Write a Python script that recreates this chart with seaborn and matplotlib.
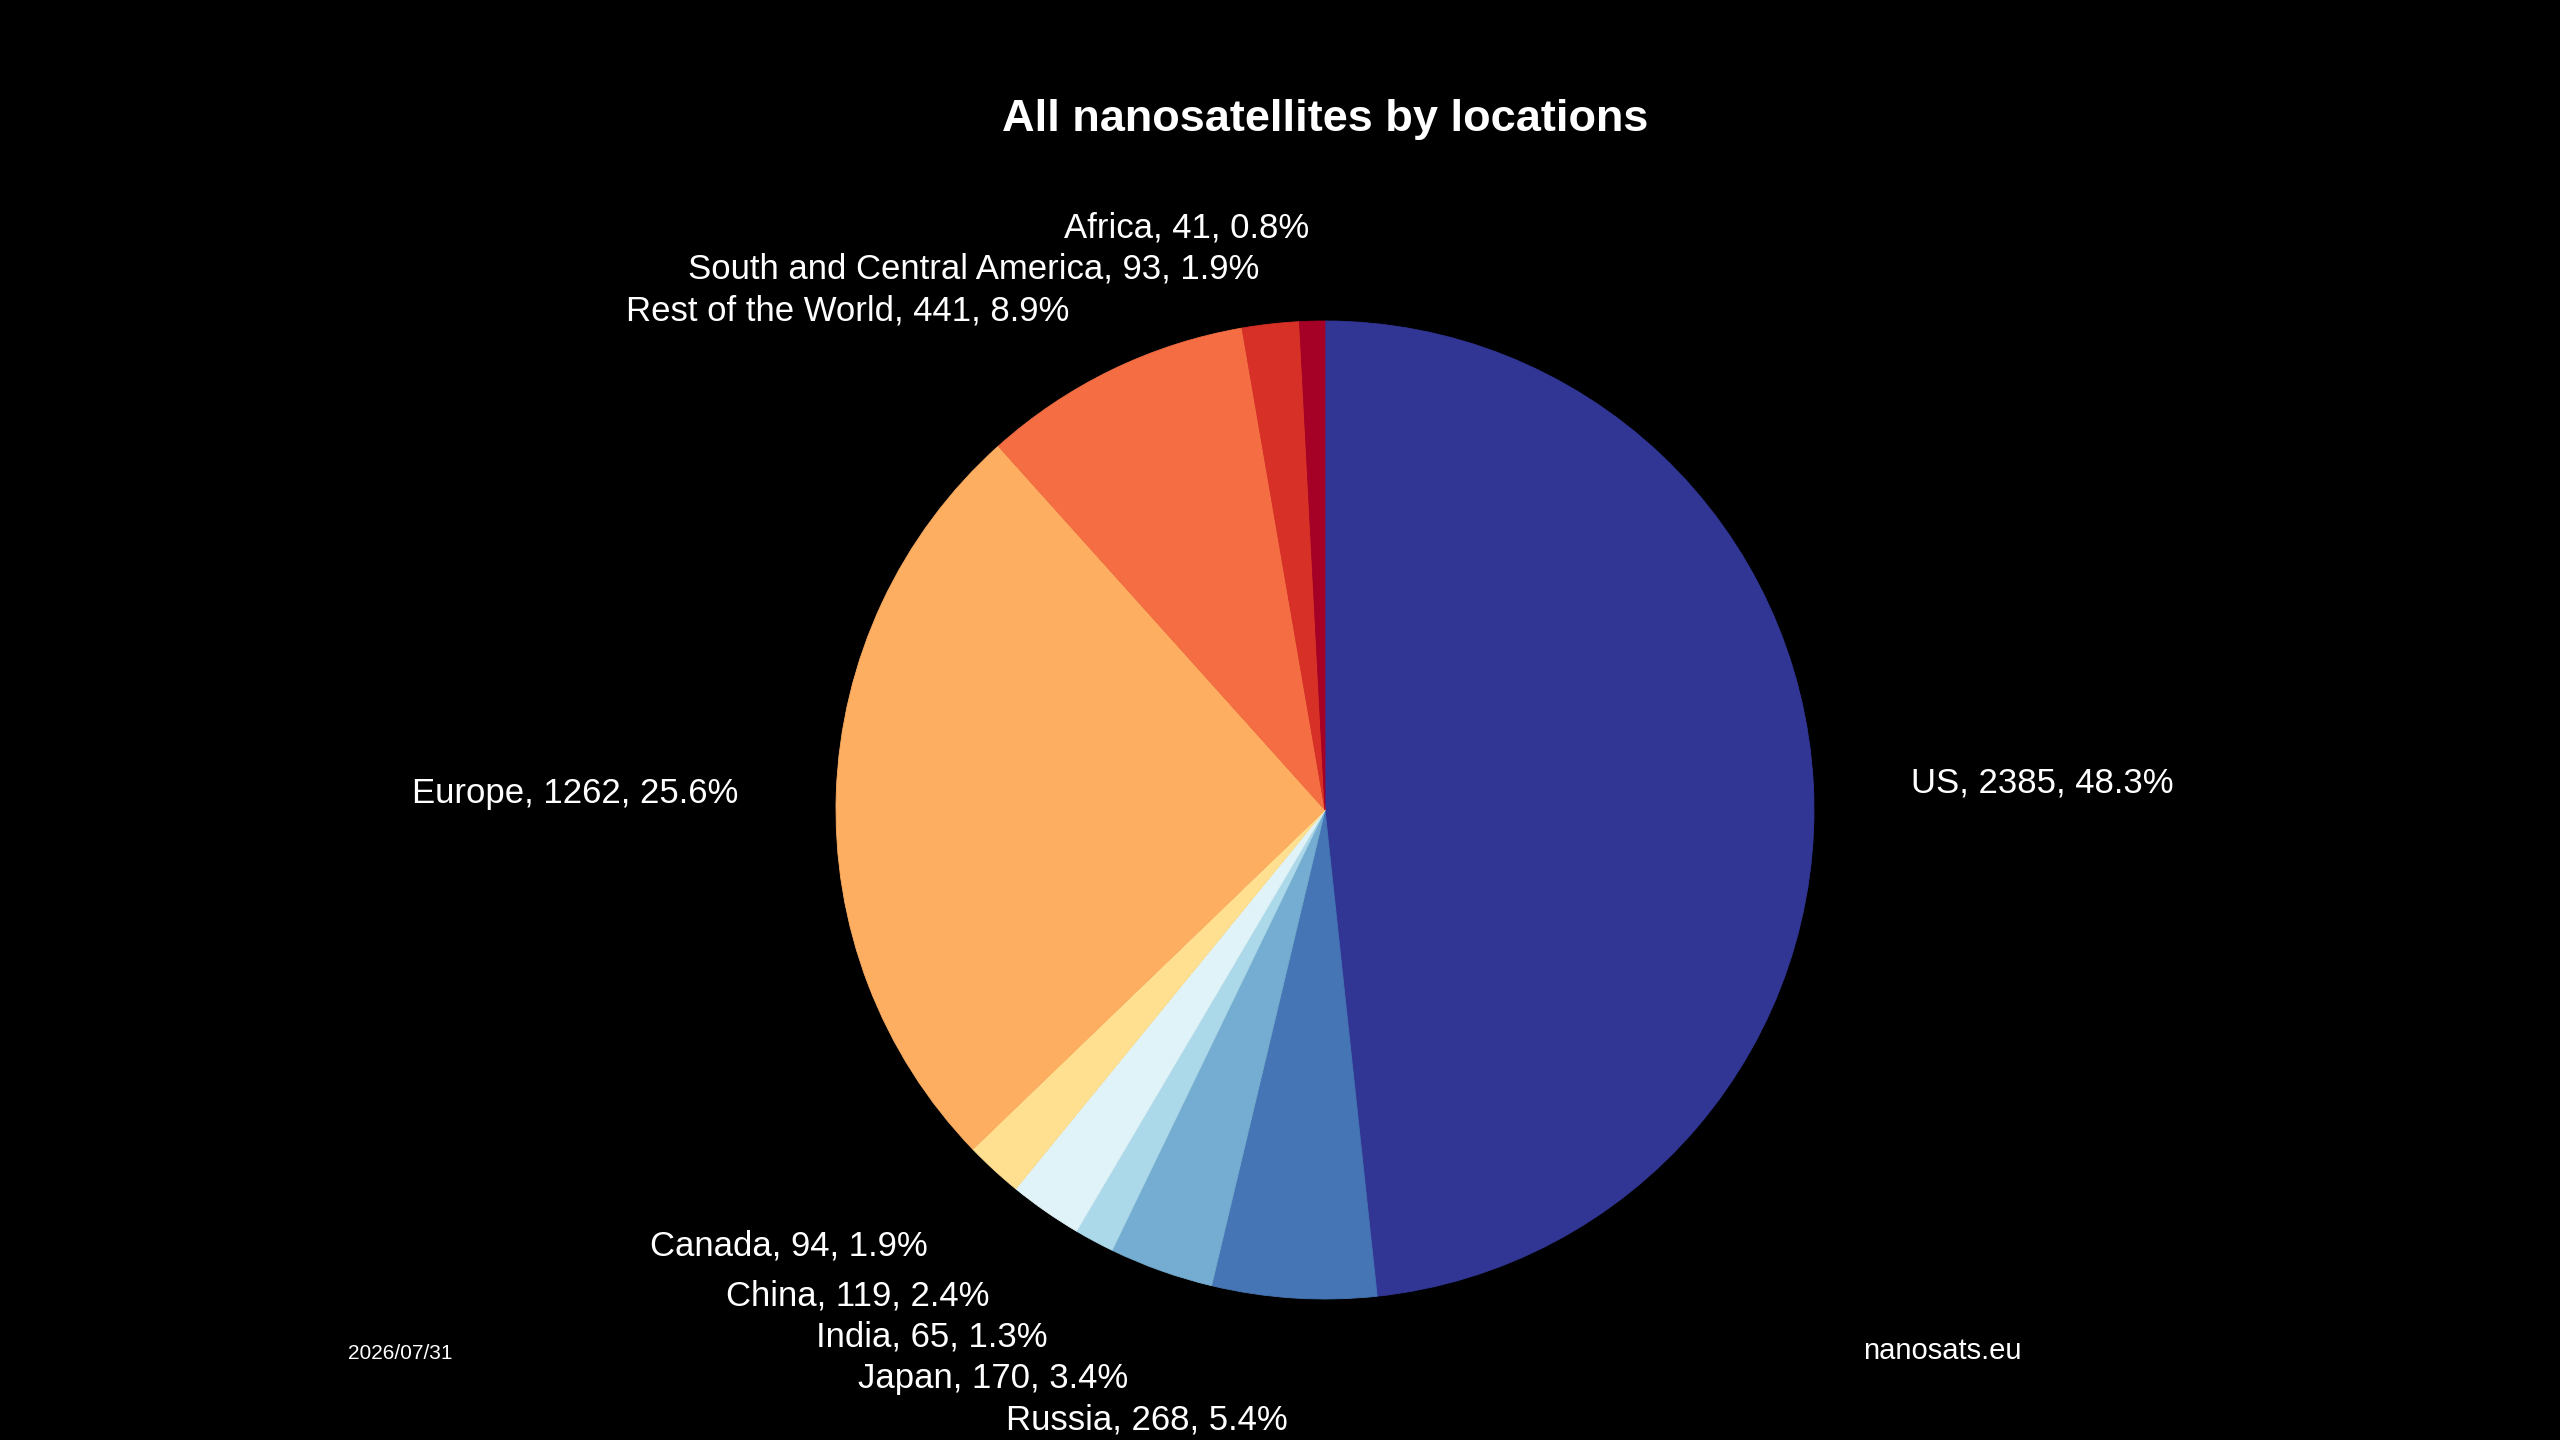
import numpy as np
import matplotlib
matplotlib.use("Agg")
import matplotlib.pyplot as plt
import seaborn as sns

# ---- data ----
locations = ["US", "Russia", "Japan", "India", "China", "Canada", "Europe",
             "Rest of the World", "South and Central America", "Africa"]
counts = [2385, 268, 170, 65, 119, 94, 1262, 441, 93, 41]
title_text = "All nanosatellites by locations"
date_text = "2026/07/31"
source_text = "nanosats.eu"

# ---- style ----
sns.set_theme(style="dark", rc={"axes.facecolor": "black", "figure.facecolor": "black"})
plt.rcParams["font.family"] = ["Liberation Sans", "DejaVu Sans"]

colors = ["#313695", "#4575b4", "#74add1", "#abd9e9", "#e0f3f8",
          "#fee090", "#fdae61", "#f46d43", "#d73027", "#a50026"]
palette = sns.color_palette(colors)

total = sum(counts)
labels = [f"{n}, {c}, {100 * c / total:.1f}%" for n, c in zip(locations, counts)]

fig = plt.figure(figsize=(25.6, 14.4), dpi=100)
fig.patch.set_facecolor("black")

R_px = 489.0
cx, cy = 1325.0, 810.0
lim = 1.2
side = 2 * lim * R_px
ax = fig.add_axes([(cx - side / 2) / 2560, ((1440 - cy) - side / 2) / 1440,
                   side / 2560, side / 1440])
ax.set_facecolor("black")

wedges, texts = ax.pie(counts, labels=labels, colors=palette, startangle=90,
                       counterclock=False, labeldistance=1.2,
                       wedgeprops=dict(linewidth=0.6),
                       textprops=dict(color="white", fontsize=25))
for w in wedges:
    w.set_edgecolor(w.get_facecolor())
ax.set_xlim(-lim, lim)
ax.set_ylim(-lim, lim)
ax.set_aspect("equal", adjustable="box")
ax.axis("off")

# resolve label overlap per side by pushing labels downward
gap = 0.085
shift = 0.009
for side_sign in (-1, 1):
    group = [t for t in texts if np.sign(t.get_position()[0]) == side_sign]
    group.sort(key=lambda t: -t.get_position()[1])
    prev = None
    for t in group:
        x, y = t.get_position()
        if prev is not None and y > prev - gap:
            y = prev - gap
        prev = y
        t.set_position((x, y - shift))

fig.text(cx / 2560, (1440 - 130.7) / 1440, title_text, ha="center", va="baseline",
         color="white", fontsize=32.5, fontweight="bold")
fig.text(348 / 2560, (1440 - 1359) / 1440, date_text, ha="left", va="baseline",
         color="white", fontsize=15)
fig.text(1863 / 2560, (1440 - 1359) / 1440, source_text, ha="left", va="baseline",
         color="white", fontsize=21)

fig.savefig("out.png", dpi=100, facecolor="black")
